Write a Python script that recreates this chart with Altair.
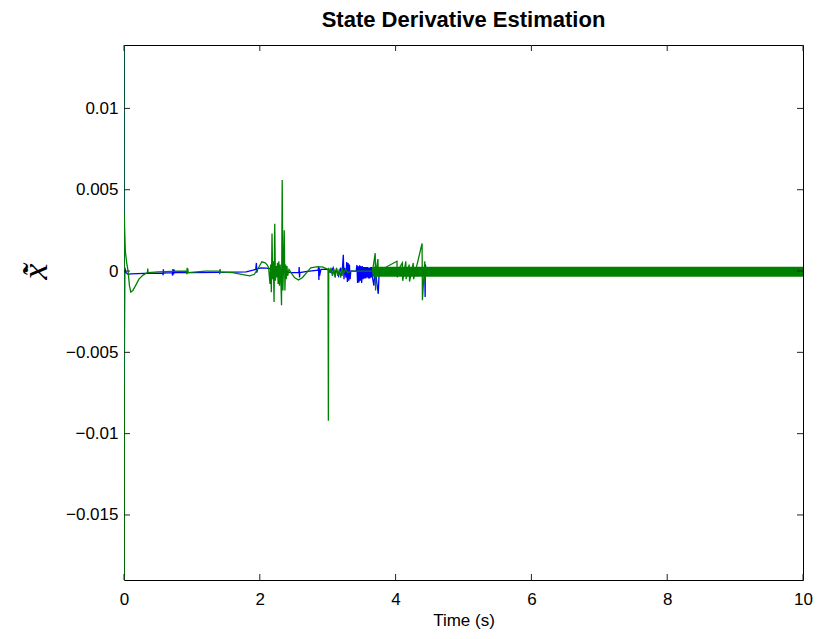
import altair as alt
import pandas as pd

# ---- data ----
blue_t = [0.000, 0.004, 0.012, 0.03, 0.06, 0.1, 0.3, 0.57, 0.575, 0.58, 0.585, 0.71, 0.715, 0.72, 0.73, 0.74, 0.75,
          1.0, 1.4, 1.8, 1.9, 1.94, 1.95, 1.955, 1.97, 2.02, 2.1, 2.2, 2.3, 2.4, 2.5, 2.575, 2.58, 2.585, 2.59, 2.7,
          2.86, 2.865, 2.87, 2.875, 2.88, 2.9, 3.0, 3.05, 3.08, 3.10, 3.13, 3.16, 3.19, 3.21, 3.23, 3.24, 3.25, 3.27,
          3.28, 3.29, 3.30, 3.31, 3.32, 3.33, 3.34, 3.42, 3.43, 3.44, 3.45, 3.46, 3.47, 3.48, 3.49, 3.50, 3.51, 3.52,
          3.53, 3.54, 3.55, 3.56, 3.57, 3.58, 3.59, 3.60, 3.61, 3.62, 3.63, 3.64, 3.65, 3.66, 3.68, 3.70, 3.72, 3.745,
          3.76, 3.8, 4.43, 4.435, 4.44, 4.45, 10.0]
blue_v = [0.0139, -0.0068, 0.0002, -0.0001, -0.0002, -0.00018, -0.00015, -0.00012, -0.00025, 0.0001, -0.00012,
          -0.0001, -0.00028, 0.00012, -0.0002, 0.00008, -0.0001,
          -0.0001, -0.00008, -0.00005, 0.00005, 0.0001, 0.0005, -0.0001, 0.00015, 0.0002, 0.00018, 0.0001, 0.0,
          -0.00008, -0.0001, -0.0001, 0.00025, -0.0004, -0.0001, -0.00002,
          0.00005, 0.0003, -0.00055, 0.0002, -0.0003, 0.0001, 0.0001, -0.0001, 0.0002, -0.0002, 0.0001, -0.0003,
          0.0002, -0.0003, 0.001, -0.0005, 0.0002, -0.0004,
          0.00055, -0.00067, 0.0005, -0.0006, 0.0004, -0.0005, 0.0, 0.0, 0.00037, -0.00074, 0.0003, -0.0007, 0.00035,
          -0.0006, 0.0003, -0.00074, 0.0003, -0.0005,
          0.00025, -0.00045, 0.00025, -0.00045, 0.00025, -0.0004, 0.00025, -0.00045, 0.0002, -0.00045, 0.00025,
          -0.0004, 0.00025, -0.0004, -0.0009, 0.0002, -0.0006, -0.0014,
          0.0002, -0.0002, -0.0002, -0.0016, 0.0004, -0.0002, -0.0002]

green_t = [0.000, 0.002, 0.004, 0.01, 0.02, 0.04, 0.06, 0.08, 0.10, 0.13, 0.17, 0.22, 0.28, 0.345, 0.35, 0.355, 0.5,
           0.7, 0.92, 0.925, 0.93, 0.935, 0.94, 0.945, 1.2, 1.405, 1.41, 1.415, 1.42, 1.6, 1.75, 1.85, 1.92, 1.98,
           2.03, 2.08, 2.11, 2.13, 2.15, 2.16, 2.17, 2.18, 2.19, 2.20, 2.21, 2.22, 2.23, 2.24, 2.25, 2.26, 2.27, 2.28,
           2.29, 2.30, 2.31, 2.32, 2.33, 2.34, 2.35, 2.36, 2.37, 2.38, 2.39, 2.40, 2.41, 2.43, 2.46, 2.51, 2.57, 2.63,
           2.69, 2.75, 2.83, 2.92, 2.98, 3.005, 3.01, 3.015, 3.03, 3.05, 3.07, 3.09, 3.11, 3.13, 3.15, 3.17, 3.19,
           3.21, 3.23, 3.26, 3.30, 3.35, 3.45, 3.55, 3.66, 3.70, 3.705, 3.71, 3.74, 3.745, 3.75, 4.02, 4.025, 4.03,
           4.1, 4.105, 4.15, 4.155, 4.2, 4.205, 4.26, 4.265, 4.39, 4.395, 4.43, 4.435, 4.44, 10.0]
green_v = [0.0139, -0.019, 0.0035, 0.0025, 0.0012, 0.0005, 0.0, -0.0009, -0.0013, -0.0012, -0.0009, -0.0005,
           -0.00025, -0.0001, 0.00015, -0.0001, -0.00005,
           -0.00002, 0.0, -0.0002, 0.0002, -0.00015, 0.00015, -0.0001, 0.0, 0.0, -0.0002, 0.00012, -0.00005, -0.0001,
           -0.00022, -0.0003, -0.0002, 0.0002,
           0.00057, 0.0005, 0.00037, 0.0002, -0.0008, 0.0004, -0.0013, 0.0023, -0.0005, 0.0006, -0.0019, 0.0029,
           -0.0006, 0.0003, -0.0004, 0.0005, -0.0008, 0.0006,
           -0.0009, 0.0004, -0.0005, -0.0021, 0.0056, -0.0012, 0.0003, 0.0025, -0.0012, 0.0004, -0.0005, 0.0003,
           -0.0003, 0.0001, -0.0001, -0.0004, -0.00055, -0.0004,
           -0.0001, 0.0002, 0.00026, 0.00025, 0.00015, 0.0001, -0.0092, 0.0002, -0.0001, 0.0002, -0.0003, 0.00015,
           -0.0004, 0.0002, -0.0003, 0.0001, -0.0004,
           0.0002, -0.0002, 0.0001, -0.0001, 0.0, 0.0, 0.0, 0.0, 0.0011, -0.0012, 0.0, 0.00074, -0.0003, 0.0, 0.0006,
           -0.0004, 0.0,
           0.0005, -0.0006, 0.0006, -0.0005, 0.0004, -0.00065, 0.0005, -0.0005, 0.0017, -0.0018, 0.0006, -0.0007, 0.0,
           0.0]

band_t = [3.66, 10.0]
green_band_lo = [-0.00035, -0.00035]
green_band_hi = [0.00026, 0.00026]

x_ticks = [0, 2, 4, 6, 8, 10]
y_ticks = [-0.015, -0.01, -0.005, 0, 0.005, 0.01]

W, H = 679, 535

blue_df = pd.DataFrame({"t": blue_t, "v": blue_v, "i": range(len(blue_t))})
green_df = pd.DataFrame({"t": green_t, "v": green_v, "i": range(len(green_t))})
band_df = pd.DataFrame({"t": band_t, "v": green_band_lo, "hi": green_band_hi})
xt_df = pd.DataFrame({"t": x_ticks})
yt_df = pd.DataFrame({"v": y_ticks})

xscale = alt.Scale(domain=[0, 10], nice=False, zero=False)
yscale = alt.Scale(domain=[-0.019, 0.0139], nice=False, zero=False)

font = "Liberation Sans"

xaxis = alt.Axis(values=x_ticks, ticks=False, domain=False, grid=False, labelFontSize=17,
                 labelFont=font, labelColor="black", labelPadding=11, labelFlush=False,
                 labelOverlap=False, titleFontSize=17,
                 titleFont=font, titleFontWeight="normal", titleColor="black", titlePadding=5,
                 format="d")
yaxis = alt.Axis(values=y_ticks, ticks=False, domain=False, grid=False, labelFontSize=17,
                 labelFont=font, labelColor="black", labelPadding=6, labelFlush=False,
                 labelOverlap=False, titleFontSize=36,
                 titleFont="Liberation Serif", titleFontStyle="italic", titleFontWeight="normal",
                 titleColor="black", titleX=-70, titleY=226, format="~g")

X = alt.X("t:Q", scale=xscale, title="Time (s)", axis=xaxis)
Y = alt.Y("v:Q", scale=yscale, title="x\u0303\u0307", axis=yaxis)

LW = 1.3
blue_line = alt.Chart(blue_df).mark_line(color="#0000ff", strokeWidth=LW, clip=True).encode(
    x=X, y=Y, order="i:Q")
green_line = alt.Chart(green_df).mark_line(color="#008000", strokeWidth=LW, clip=True).encode(
    x=X, y=Y, order="i:Q")
green_band = alt.Chart(band_df).mark_area(color="#008000", opacity=1, clip=True).encode(
    x=X, y=Y, y2="hi:Q")

tick_color = "#222222"
tl = 6
yt_left = alt.Chart(yt_df).mark_rule(color=tick_color, strokeWidth=1).encode(
    y=Y, x=alt.value(0), x2=alt.value(tl))
yt_right = alt.Chart(yt_df).mark_rule(color=tick_color, strokeWidth=1).encode(
    y=Y, x=alt.value(W - tl), x2=alt.value(W))
xt_bottom = alt.Chart(xt_df).mark_rule(color=tick_color, strokeWidth=1).encode(
    x=X, y=alt.value(H - tl), y2=alt.value(H))
xt_top = alt.Chart(xt_df).mark_rule(color=tick_color, strokeWidth=1).encode(
    x=X, y=alt.value(0), y2=alt.value(tl))

chart = alt.layer(blue_line, green_line, green_band, yt_left, yt_right, xt_bottom, xt_top).properties(
    width=W, height=H,
    title=alt.TitleParams("State Derivative Estimation", fontSize=22, font=font, fontWeight="bold",
                          color="black", offset=13),
    autosize=alt.AutoSizeParams(type="none"),
    padding={"left": 124, "top": 45, "right": 15, "bottom": 59},
).configure(background="white").configure_view(stroke="black", strokeWidth=1)

chart.save("out.html", embed_options={"renderer": "svg", "actions": False})
